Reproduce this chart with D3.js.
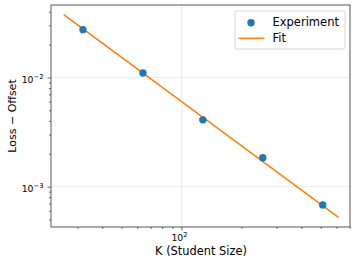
<!DOCTYPE html>
<meta charset="utf-8">
<style>
body { margin: 0; background: #fff; }
text { font-family: "DejaVu Sans", sans-serif; fill: #000; }
.grid line { stroke: #b0b0b0; stroke-opacity: 0.3; stroke-width: 0.8; }
.axis path, .axis line { stroke: #444; stroke-width: 0.8; }
</style>
<svg width="357" height="264"></svg>
<script src="https://cdn.jsdelivr.net/npm/d3@7"></script>
<script>

// experiment points
var studentSize = [32, 64, 128, 256, 512];
var lossOffset = [0.0274, 0.0110, 0.00409, 0.00184, 0.000679];

// fitted power law, read at its two ends
var fitK = [25.6, 614.4];
var fitLoss = [0.0376, 0.000523];

var xMajor = [100];
var yMajor = [0.01, 0.001];

var svg = d3.select("svg"),
    margin = {top: 5, right: 7, bottom: 37, left: 51},
    width = +svg.attr("width") - margin.left - margin.right,
    height = +svg.attr("height") - margin.top - margin.bottom;

var x = d3.scaleLog().domain([22.1, 702]).range([0, width]),
    y = d3.scaleLog().domain([0.0461, 0.000427]).range([0, height]);

var g = svg.append("g")
    .attr("transform", "translate(" + margin.left + "," + margin.top + ")");

// grid
g.append("g").attr("class", "grid")
  .selectAll("line").data(xMajor).enter().append("line")
    .attr("x1", d => x(d)).attr("x2", d => x(d))
    .attr("y1", 0).attr("y2", height);
g.append("g").attr("class", "grid")
  .selectAll("line").data(yMajor).enter().append("line")
    .attr("y1", d => y(d)).attr("y2", d => y(d))
    .attr("x1", 0).attr("x2", width);

// minor ticks
var xMinor = x.ticks().filter(d => xMajor.indexOf(d) < 0);
var yMinor = y.ticks().filter(d => yMajor.indexOf(d) < 0);

var xAxis = g.append("g").attr("class", "axis")
    .attr("transform", "translate(0," + height + ")");
xAxis.call(d3.axisBottom(x).tickValues(xMinor).tickSize(2).tickFormat(""));
xAxis.select(".domain").remove();
xAxis.append("g").call(d3.axisBottom(x).tickValues(xMajor).tickSize(3.5).tickFormat(""))
  .select(".domain").remove();

var yAxis = g.append("g").attr("class", "axis");
yAxis.call(d3.axisLeft(y).tickValues(yMinor).tickSize(2).tickFormat(""));
yAxis.select(".domain").remove();
yAxis.append("g").call(d3.axisLeft(y).tickValues(yMajor).tickSize(3.5).tickFormat(""))
  .select(".domain").remove();

// tick labels with superscripts
function expLabel(sel, v) {
  var e = Math.round(Math.log10(v));
  sel.append("tspan").text("10");
  sel.append("tspan").attr("dy", "-0.55em").attr("font-size", "6.8px")
    .text(e < 0 ? "\u2212" + (-e) : e);
}
xMajor.forEach(function(v) {
  var t = g.append("text").attr("x", x(v) - 2).attr("y", height + 13.5)
    .attr("font-size", "9.3px").attr("text-anchor", "middle");
  expLabel(t, v);
});
yMajor.forEach(function(v) {
  var t = g.append("text").attr("x", -7.5).attr("y", y(v) + 5.5)
    .attr("font-size", "9.3px").attr("text-anchor", "end");
  expLabel(t, v);
});

// frame
g.append("rect").attr("width", width).attr("height", height)
    .attr("fill", "none").attr("stroke", "#444").attr("stroke-width", 0.9);

// fit line
var line = d3.line().x(d => x(d[0])).y(d => y(d[1]));
g.append("path")
    .datum(d3.zip(fitK, fitLoss))
    .attr("d", line)
    .attr("fill", "none").attr("stroke", "#ff7f0e").attr("stroke-width", 1.5);

// points
g.selectAll(".dot")
  .data(d3.zip(studentSize, lossOffset))
  .enter().append("circle")
    .attr("class", "dot")
    .attr("cx", d => x(d[0])).attr("cy", d => y(d[1]))
    .attr("r", 3.7).attr("fill", "#1f77b4");

// axis labels
svg.append("text")
    .attr("x", 201).attr("y", 254.5)
    .attr("text-anchor", "middle").attr("font-size", "11.4px")
    .text("K (Student Size)");
svg.append("text")
    .attr("transform", "translate(15.5," + (margin.top + height / 2) + ") rotate(-90)")
    .attr("text-anchor", "middle").attr("font-size", "11px")
    .text("Loss \u2212 Offset");

// legend
var lg = svg.append("g").attr("transform", "translate(235,11)");
lg.append("rect").attr("width", 110).attr("height", 38).attr("rx", 2)
    .attr("fill", "#fff").attr("fill-opacity", 0.8)
    .attr("stroke", "#ccc").attr("stroke-width", 0.8);
lg.append("circle").attr("cx", 16).attr("cy", 11.7).attr("r", 3.7).attr("fill", "#1f77b4");
lg.append("line").attr("x1", 3.5).attr("x2", 29.5).attr("y1", 27.3).attr("y2", 27.3)
    .attr("stroke", "#ff7f0e").attr("stroke-width", 1.5);
lg.append("text").attr("x", 37.5).attr("y", 14.8).attr("font-size", "11.5px").text("Experiment");
lg.append("text").attr("x", 37.5).attr("y", 31.3).attr("font-size", "11.5px").text("Fit");

</script>
